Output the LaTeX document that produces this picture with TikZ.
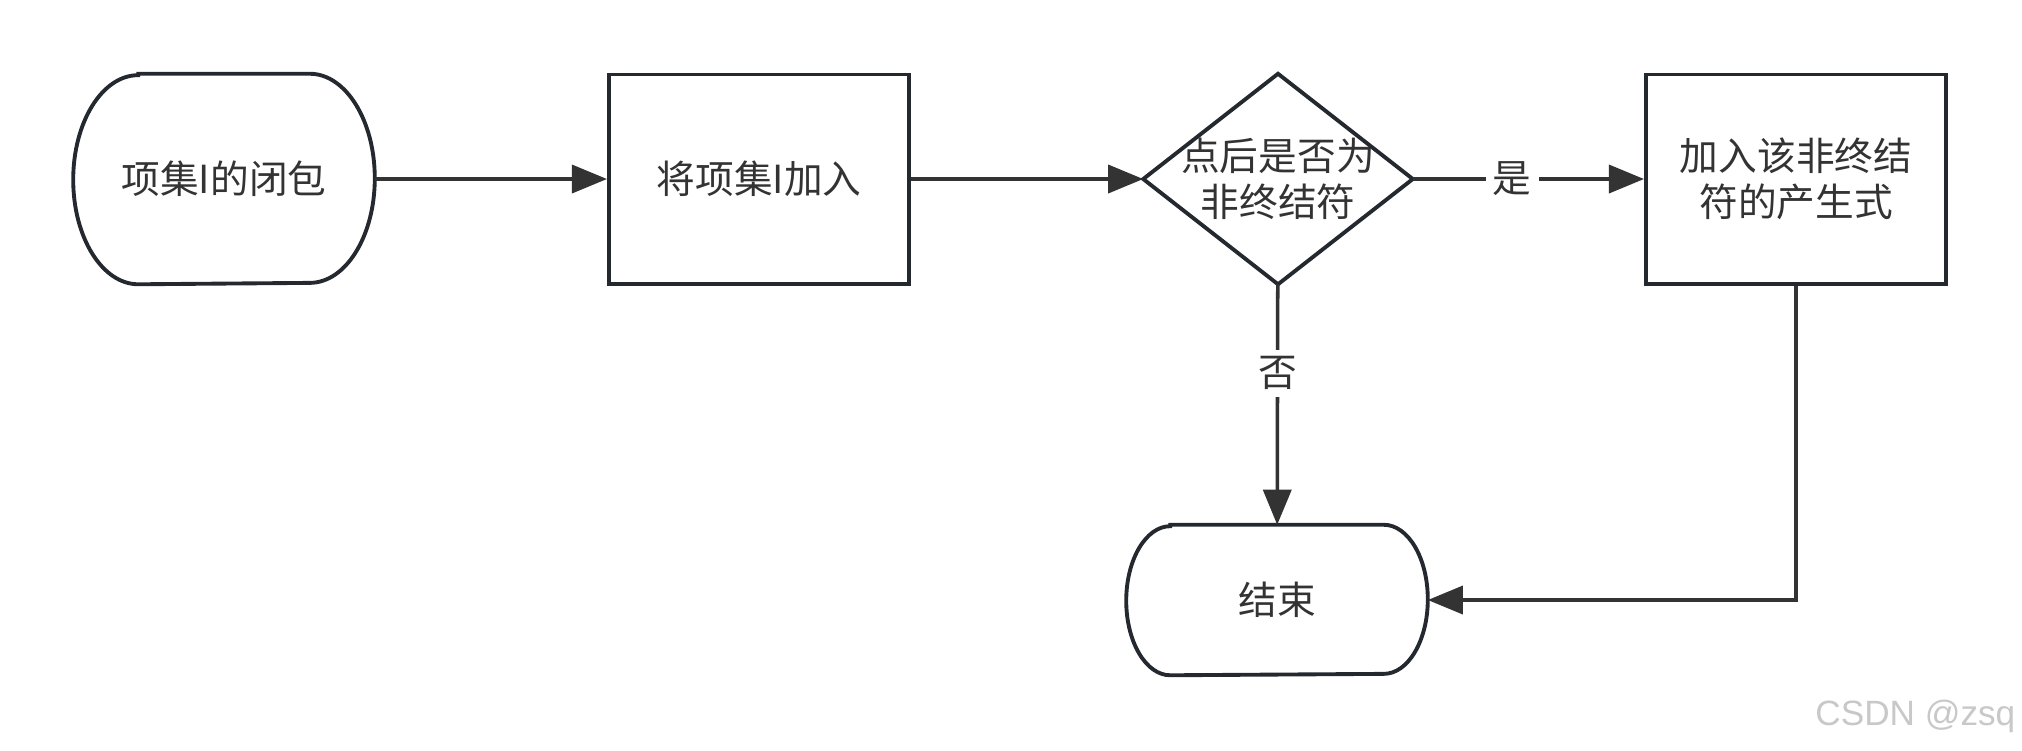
\documentclass[tikz,border=0pt]{standalone}
\usepackage{fontspec}
\setmainfont{Noto Sans CJK SC}
\newfontfamily\markfont{Liberation Sans}
\usepackage{xcolor}
\usepackage{tikz}
\usetikzlibrary{arrows.meta}

\definecolor{linegray}{HTML}{23292E}
\definecolor{arrowgray}{HTML}{333333}
\definecolor{textgray}{HTML}{333333}
\definecolor{markgray}{HTML}{C8C8C8}

\begin{document}
\begin{tikzpicture}[x=0.01cm, y=-0.01cm, font=\fontsize{11}{13}\selectfont,
    shapebox/.style={draw=none, minimum width=3cm, minimum height=2.09cm,
      inner sep=0pt, align=center, text=textgray},
    procbox/.style={shapebox, draw=linegray, line width=1.1pt},
    flow/.style={-{Triangle[length=10pt, width=8pt]}, line width=1pt, draw=arrowgray},
    flowlabel/.style={fill=white, inner sep=2pt, text=textgray}]
  \useasboundingbox (0,0) rectangle (2022,750);

  % Terminal shape: #1 node, #2 side radius, #3 half height
  \def\drawTerm#1#2#3{
    \draw[line width=1.1pt, draw=linegray]
      ([xshift=#2]#1.north west) -- ([xshift=-#2]#1.north east)
      arc[start angle=90, end angle=-90, x radius=#2, y radius=#3]
      -- ([xshift=#2]#1.south west)
      arc[start angle=270, end angle=90, x radius=#2, y radius=#3]
      -- cycle;
  }

  % Nodes
  \node[shapebox] (start) at (224,179) {项集I的闭包};
  \node[procbox] (add) at (759,179) {将项集I加入};
  \node[shapebox, minimum width=2.68cm] (isnt) at (1278,179) {点后是否为\\非终结符};
  \node[procbox] (prod) at (1796,179) {加入该非终结\\符的产生式};
  \node[shapebox, minimum height=1.49cm] (stop) at (1277,600) {结束};

  \drawTerm{start}{0.65cm}{1.045cm}
  \drawTerm{stop}{0.44cm}{0.745cm}
  \draw[line width=1.1pt, draw=linegray]
    (isnt.north) -- (isnt.east) -- (isnt.south) -- (isnt.west) -- cycle;

  % Connectors
  \draw[flow] (start) -- (add);
  \draw[flow] (add) -- (isnt);
  \draw[flow] (isnt) -- node[pos=0.43, flowlabel]{是} (prod);
  \draw[flow] (isnt) -- node[pos=0.37, flowlabel]{否} (stop);
  \draw[flow] (prod) |- (stop);

  % Watermark
  \node[anchor=east, inner sep=0pt, text=markgray, font=\markfont\fontsize{10}{12}\selectfont]
    (mark) at (2016,716) {CSDN @zsq};
\end{tikzpicture}
\end{document}
